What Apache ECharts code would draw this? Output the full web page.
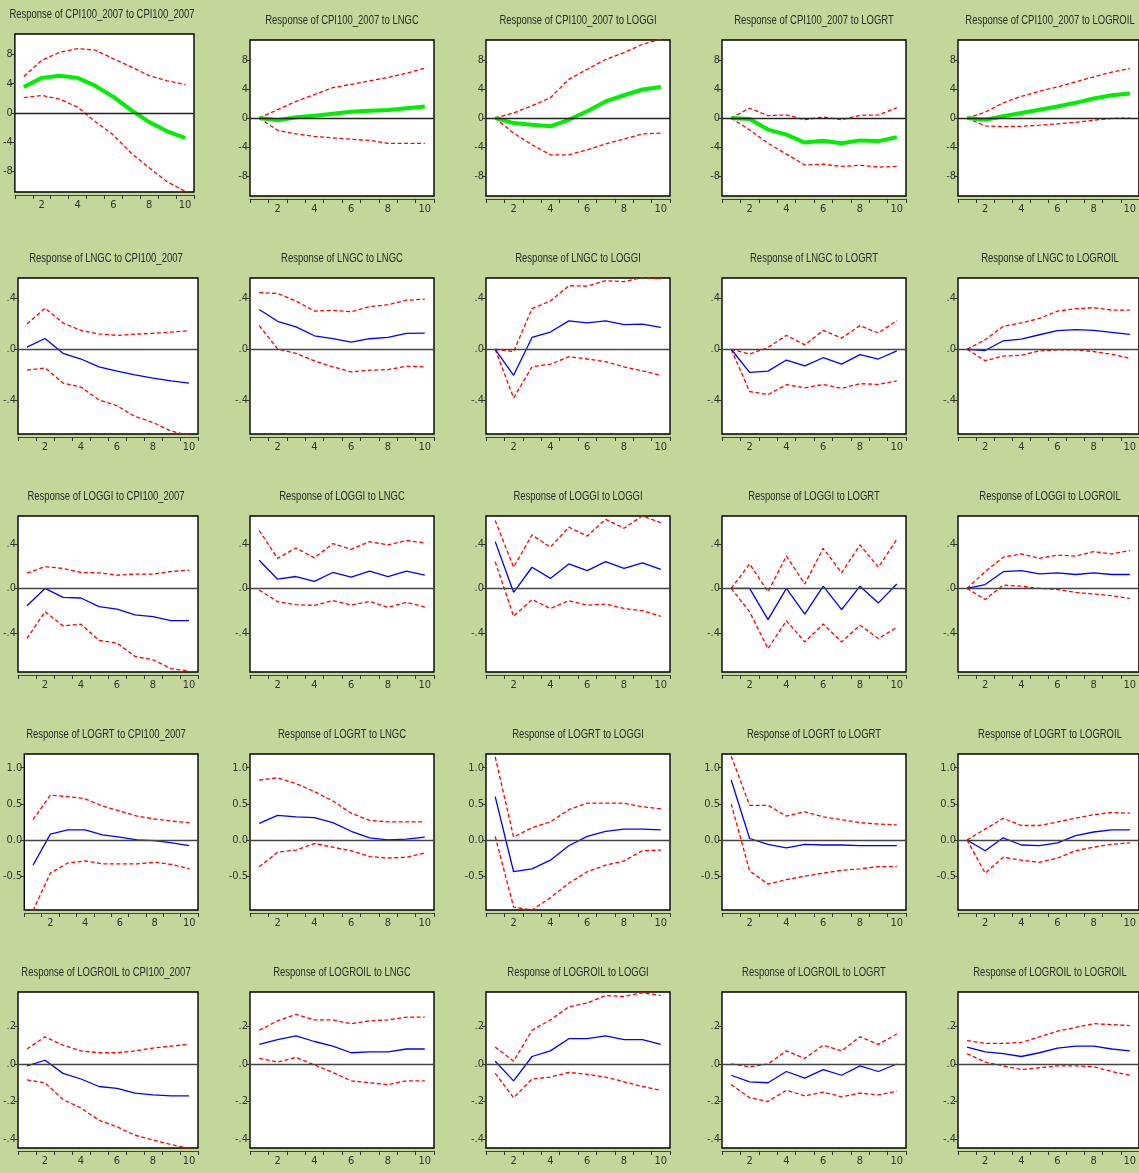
<!DOCTYPE html>
<html>
<head>
<meta charset="utf-8">
<script src="https://cdn.jsdelivr.net/npm/echarts@6/dist/echarts.min.js"></script>
<style>
  html, body { margin: 0; padding: 0; background: #c4d79b; }
  #chart { width: 1139px; height: 1173px; }
</style>
</head>
<body>
<div id="chart"></div>
<script>
// Impulse responses over 10 periods, with +/- 2 S.E. bands
const periods = ['1', '2', '3', '4', '5', '6', '7', '8', '9', '10'];
const variables = ['CPI100_2007', 'LNGC', 'LOGGI', 'LOGRT', 'LOGROIL'];

// Response of CPI100_2007 to each shock (shock order = variables)
const cpiResp = [
  [3.55, 4.8, 5.1, 4.8, 3.7, 2.2, 0.4, -1.25, -2.5, -3.4],
  [0, -0.3, 0.1, 0.3, 0.6, 0.85, 1.0, 1.1, 1.35, 1.6],
  [0, -0.7, -0.93, -1.15, -0.25, 0.93, 2.3, 3.15, 3.95, 4.3],
  [0, -0.15, -1.6, -2.3, -3.4, -3.15, -3.5, -3.1, -3.2, -2.65],
  [0, -0.25, 0.25, 0.7, 1.15, 1.6, 2.1, 2.7, 3.15, 3.4]
];
const cpiUpper = [
  [5.0, 7.2, 8.3, 8.8, 8.6, 7.4, 6.3, 5.1, 4.4, 3.9],
  [0, 1.15, 2.3, 3.25, 4.2, 4.65, 5.15, 5.6, 6.2, 6.9],
  [0, 0.7, 1.7, 2.8, 5.35, 6.75, 8.1, 9.05, 10.2, 10.9],
  [0, 1.35, 0.33, 0.42, -0.23, 0.14, -0.23, 0.37, 0.42, 1.4],
  [0, 0.8, 2.1, 3.0, 3.7, 4.3, 5.0, 5.7, 6.35, 6.85]
];
const cpiLower = [
  [2.1, 2.4, 1.9, 0.8, -1.2, -3.0, -5.5, -7.5, -9.4, -10.7],
  [0, -1.7, -2.2, -2.55, -2.75, -2.95, -3.1, -3.5, -3.5, -3.5],
  [0, -2.1, -3.7, -5.1, -5.1, -4.4, -3.6, -2.9, -2.2, -2.1],
  [0, -1.65, -3.5, -5.0, -6.5, -6.4, -6.7, -6.55, -6.8, -6.7],
  [0, -1.1, -1.2, -1.15, -1.0, -0.8, -0.6, -0.3, -0.05, 0.0]
];

// Response of LNGC
const lngcResp = [
  [0.016, 0.084, -0.032, -0.076, -0.137, -0.17, -0.2, -0.224, -0.247, -0.263],
  [0.31, 0.218, 0.174, 0.105, 0.082, 0.055, 0.082, 0.092, 0.124, 0.126],
  [0, -0.203, 0.092, 0.134, 0.221, 0.205, 0.221, 0.192, 0.195, 0.171],
  [0, -0.18, -0.17, -0.084, -0.13, -0.066, -0.116, -0.042, -0.076, -0.013],
  [0, -0.01, 0.066, 0.079, 0.113, 0.145, 0.153, 0.147, 0.132, 0.116]
];
const lngcUpper = [
  [0.197, 0.32, 0.205, 0.147, 0.12, 0.108, 0.118, 0.124, 0.134, 0.145],
  [0.442, 0.434, 0.376, 0.297, 0.303, 0.292, 0.332, 0.347, 0.382, 0.39],
  [0, -0.018, 0.316, 0.376, 0.495, 0.492, 0.534, 0.526, 0.56, 0.547],
  [0, -0.037, 0.013, 0.108, 0.034, 0.147, 0.087, 0.184, 0.126, 0.224],
  [0, 0.074, 0.179, 0.205, 0.24, 0.297, 0.316, 0.324, 0.305, 0.305]
];
const lngcLower = [
  [-0.163, -0.145, -0.263, -0.295, -0.395, -0.44, -0.524, -0.57, -0.637, -0.67],
  [0.184, 0.003, -0.032, -0.09, -0.137, -0.176, -0.163, -0.158, -0.132, -0.137],
  [0, -0.379, -0.137, -0.116, -0.058, -0.076, -0.097, -0.137, -0.168, -0.203],
  [0, -0.329, -0.353, -0.276, -0.3, -0.274, -0.305, -0.268, -0.274, -0.247],
  [0, -0.089, -0.053, -0.047, -0.013, -0.005, -0.005, -0.018, -0.039, -0.071]
];

// Response of LOGGI
const loggiResp = [
  [-0.155, 0, -0.08, -0.086, -0.164, -0.185, -0.238, -0.253, -0.289, -0.289],
  [0.253, 0.083, 0.107, 0.063, 0.143, 0.101, 0.155, 0.107, 0.155, 0.119],
  [0.42, -0.035, 0.19, 0.09, 0.22, 0.16, 0.24, 0.18, 0.23, 0.17],
  [0, 0, -0.28, 0, -0.23, 0.02, -0.19, 0.02, -0.13, 0.04],
  [0, 0.035, 0.15, 0.16, 0.13, 0.14, 0.125, 0.14, 0.125, 0.125]
];
const loggiUpper = [
  [0.137, 0.196, 0.179, 0.143, 0.14, 0.119, 0.128, 0.128, 0.152, 0.164],
  [0.52, 0.27, 0.363, 0.274, 0.402, 0.351, 0.42, 0.39, 0.43, 0.41],
  [0.61, 0.19, 0.48, 0.37, 0.55, 0.47, 0.62, 0.54, 0.65, 0.59],
  [0, 0.22, -0.03, 0.29, 0.04, 0.36, 0.14, 0.39, 0.19, 0.44],
  [0, 0.15, 0.28, 0.31, 0.27, 0.3, 0.29, 0.33, 0.31, 0.34]
];
const loggiLower = [
  [-0.449, -0.208, -0.336, -0.321, -0.467, -0.49, -0.61, -0.64, -0.72, -0.74],
  [-0.015, -0.119, -0.146, -0.152, -0.11, -0.149, -0.116, -0.17, -0.125, -0.167],
  [0.24, -0.25, -0.1, -0.18, -0.11, -0.15, -0.14, -0.18, -0.2, -0.25],
  [0, -0.21, -0.54, -0.29, -0.48, -0.32, -0.48, -0.33, -0.45, -0.35],
  [0, -0.1, 0.03, 0.02, 0.0, -0.01, -0.035, -0.05, -0.065, -0.09]
];

// Response of LOGRT
const logrtResp = [
  [-0.35, 0.08, 0.14, 0.14, 0.07, 0.04, 0.0, -0.01, -0.04, -0.08],
  [0.23, 0.34, 0.32, 0.31, 0.24, 0.12, 0.03, 0.0, 0.01, 0.04],
  [0.6, -0.44, -0.4, -0.28, -0.08, 0.05, 0.12, 0.15, 0.15, 0.14],
  [0.83, 0.02, -0.06, -0.11, -0.06, -0.07, -0.07, -0.08, -0.08, -0.08],
  [0, -0.15, 0.03, -0.07, -0.08, -0.04, 0.06, 0.11, 0.14, 0.14]
];
const logrtUpper = [
  [0.28, 0.62, 0.6, 0.57, 0.47, 0.4, 0.33, 0.29, 0.26, 0.24],
  [0.83, 0.86, 0.78, 0.67, 0.54, 0.37, 0.27, 0.25, 0.25, 0.25],
  [1.15, 0.04, 0.17, 0.25, 0.42, 0.51, 0.51, 0.51, 0.46, 0.43],
  [1.16, 0.48, 0.48, 0.33, 0.39, 0.32, 0.28, 0.24, 0.22, 0.21],
  [0, 0.15, 0.3, 0.2, 0.2, 0.25, 0.3, 0.35, 0.38, 0.37]
];
const logrtLower = [
  [-0.98, -0.46, -0.32, -0.29, -0.33, -0.33, -0.33, -0.31, -0.34, -0.4],
  [-0.37, -0.17, -0.14, -0.05, -0.1, -0.15, -0.23, -0.25, -0.24, -0.18],
  [0.05, -0.93, -0.97, -0.8, -0.6, -0.44, -0.35, -0.29, -0.15, -0.14],
  [0.5, -0.43, -0.61, -0.55, -0.5, -0.46, -0.42, -0.4, -0.37, -0.37],
  [0, -0.46, -0.24, -0.28, -0.31, -0.25, -0.15, -0.1, -0.06, -0.04]
];

// Response of LOGROIL
const logroilResp = [
  [-0.01, 0.02, -0.05, -0.08, -0.12, -0.13, -0.155, -0.165, -0.17, -0.17],
  [0.105, 0.13, 0.15, 0.12, 0.095, 0.06, 0.065, 0.065, 0.08, 0.08],
  [0.015, -0.09, 0.04, 0.07, 0.135, 0.135, 0.15, 0.13, 0.13, 0.105],
  [-0.06, -0.095, -0.1, -0.04, -0.075, -0.03, -0.06, -0.01, -0.04, 0.0],
  [0.09, 0.065, 0.055, 0.04, 0.06, 0.085, 0.095, 0.095, 0.08, 0.07]
];
const logroilUpper = [
  [0.08, 0.145, 0.1, 0.07, 0.06, 0.06, 0.07, 0.085, 0.095, 0.105],
  [0.18, 0.23, 0.265, 0.235, 0.235, 0.215, 0.23, 0.235, 0.25, 0.25],
  [0.09, 0.015, 0.18, 0.235, 0.305, 0.325, 0.365, 0.36, 0.38, 0.365],
  [0.0, -0.015, 0.0, 0.07, 0.03, 0.1, 0.07, 0.145, 0.105, 0.16],
  [0.125, 0.11, 0.11, 0.115, 0.145, 0.175, 0.195, 0.215, 0.21, 0.205]
];
const logroilLower = [
  [-0.085, -0.1, -0.19, -0.235, -0.3, -0.335, -0.38, -0.405, -0.43, -0.45],
  [0.03, 0.01, 0.035, -0.005, -0.045, -0.09, -0.1, -0.11, -0.09, -0.09],
  [-0.05, -0.18, -0.08, -0.07, -0.045, -0.055, -0.07, -0.095, -0.12, -0.14],
  [-0.11, -0.18, -0.2, -0.14, -0.17, -0.15, -0.175, -0.155, -0.165, -0.145],
  [0.055, 0.01, -0.01, -0.03, -0.02, -0.01, -0.01, -0.015, -0.04, -0.06]
];

// Y-axis scale and tick labels, one entry per response variable (row)
const yMin = [-10.8, -0.66, -0.75, -0.97, -0.448];
const yMax = [10.8, 0.555, 0.65, 1.19, 0.384];
const yTicks = [
  [-8, -4, 0, 4, 8],
  [-0.4, 0, 0.4],
  [-0.4, 0, 0.4],
  [-0.5, 0, 0.5, 1.0],
  [-0.4, -0.2, 0, 0.2]
];

const respRows = [cpiResp, lngcResp, loggiResp, logrtResp, logroilResp];
const upperRows = [cpiUpper, lngcUpper, loggiUpper, logrtUpper, logroilUpper];
const lowerRows = [cpiLower, lngcLower, loggiLower, logrtLower, logroilLower];

// Panel layout
const colLeft = [14, 250, 486, 722, 958];
const rowTop = [40, 278, 516, 754, 992];
const plotW = 184, plotH = 156;

function tickText(row, v) {
  if (row === 0) return String(v);
  if (row === 3) return v.toFixed(1);
  const a = Math.round(Math.abs(v) * 10);
  return (v < 0 ? '-' : '') + '.' + a;
}

const fontTitle = '"Liberation Sans", Arial, sans-serif';
const fontAxis = '"DejaVu Sans Condensed", "Liberation Sans Narrow", "Liberation Sans", Arial, sans-serif';

const grids = [], xAxes = [], yAxes = [], series = [], graphics = [];
let k = 0;
for (let r = 0; r < 5; r++) {
  for (let c = 0; c < 5; c++) {
    let left = colLeft[c], top = rowTop[r], h = plotH;
    if (r === 0 && c === 0) { left = 10; top = 34; h = 158; }
    grids.push({
      left: left, top: top, width: plotW, height: h,
      show: true, backgroundColor: '#ffffff',
      borderColor: '#000000', borderWidth: 1.4
    });
    xAxes.push({
      type: 'category', gridIndex: k, data: periods, boundaryGap: true,
      offset: 3,
      axisLine: { show: true, onZero: false, lineStyle: { color: '#444', width: 1 } },
      axisTick: { show: true, interval: 0, length: 4, inside: false, lineStyle: { color: '#333' } },
      axisLabel: {
        interval: function (i) { return i % 2 === 1; },
        color: '#333', fontSize: 11, fontFamily: fontAxis, margin: 5
      },
      splitLine: { show: false }
    });
    const row = r;
    yAxes.push({
      type: 'value', gridIndex: k, min: yMin[r], max: yMax[r],
      axisLine: { show: false },
      axisTick: { show: true, length: 4, customValues: yTicks[r], lineStyle: { color: '#333' } },
      axisLabel: {
        customValues: yTicks[r], color: '#333', fontSize: 11, fontFamily: fontAxis, margin: 2,
        formatter: function (v) { return tickText(row, v); }
      },
      splitLine: { show: false }
    });
    // zero reference line
    series.push({
      type: 'line', xAxisIndex: k, yAxisIndex: k, data: [], z: 1, silent: true,
      markLine: {
        silent: true, symbol: ['none', 'none'], label: { show: false },
        lineStyle: { color: r === 0 ? '#222' : '#444', width: 1.4, type: 'solid' },
        data: [{ yAxis: 0 }]
      }
    });
    const band = {
      type: 'line', xAxisIndex: k, yAxisIndex: k, z: 3, silent: true,
      symbol: 'none', animation: false,
      lineStyle: { color: '#ff0000', width: 1.3, type: [4, 2.5] }
    };
    series.push(Object.assign({}, band, { data: upperRows[r][c] }));
    series.push(Object.assign({}, band, { data: lowerRows[r][c] }));
    series.push({
      type: 'line', xAxisIndex: k, yAxisIndex: k, z: 4, silent: true,
      symbol: 'none', animation: false, data: respRows[r][c],
      lineStyle: r === 0 ? { color: '#00ee00', width: 4 } : { color: '#0000ff', width: 1.3 }
    });
    // panel title, set in a narrowed face
    graphics.push({
      type: 'text', x: left + plotW / 2, y: top - 20, scaleX: 0.73,
      style: {
        text: 'Response of ' + variables[r] + ' to ' + variables[c],
        fill: '#2a2a2a', fontSize: 13, fontFamily: fontTitle,
        align: 'center', verticalAlign: 'middle'
      }
    });
    k++;
  }
}

const chart = echarts.init(document.getElementById('chart'));
chart.setOption({
  backgroundColor: '#c4d79b',
  animation: false,
  grid: grids,
  xAxis: xAxes,
  yAxis: yAxes,
  series: series,
  graphic: graphics
});
</script>
</body>
</html>
